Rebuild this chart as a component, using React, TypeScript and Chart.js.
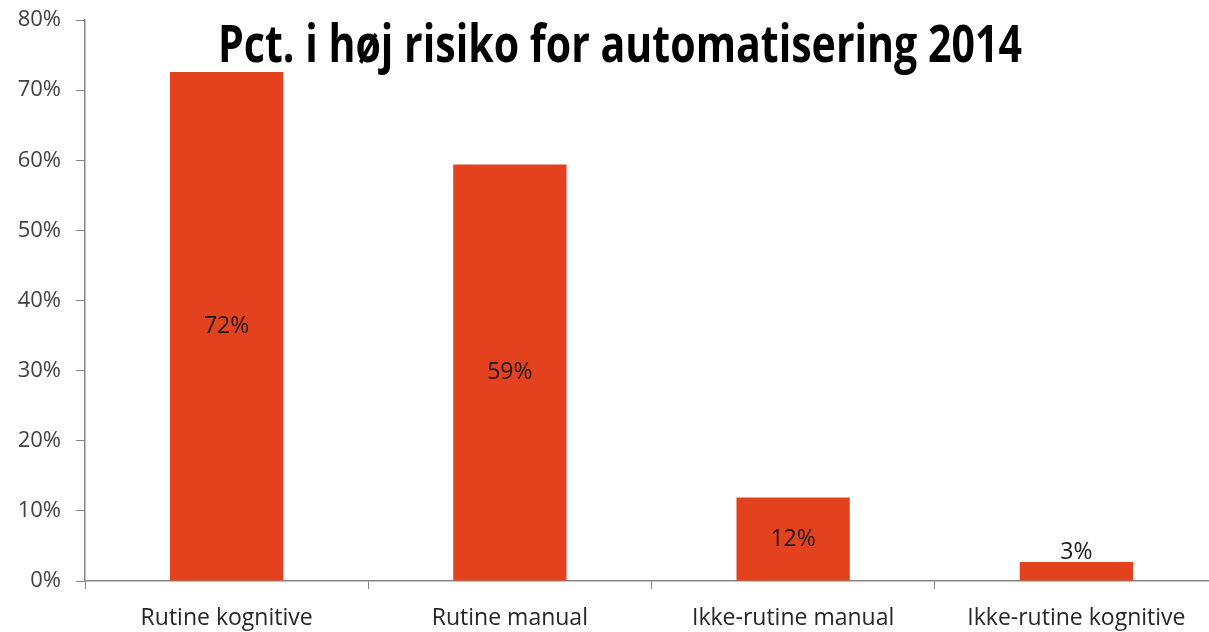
import React, { useEffect, useRef } from "react";
import { Chart, registerables } from "chart.js";

Chart.register(...registerables);

const categories = ["Rutine kognitive", "Rutine manual", "Ikke-rutine manual", "Ikke-rutine kognitive"];
const values = [72.6, 59.4, 11.9, 2.7];
const valueLabels = ["72%", "59%", "12%", "3%"];
const yTicks = [0, 10, 20, 30, 40, 50, 60, 70, 80];
const titleText = "Pct. i høj risiko for automatisering 2014";

const barColor = "#E4411F";
const axisColor = "#868686";

const labelPlugin = {
  id: "barLabels",
  afterDatasetsDraw(chart: any) {
    const ctx = chart.ctx;
    const meta = chart.getDatasetMeta(0);
    ctx.save();
    ctx.font = '23px "Open Sans", "Noto Sans", sans-serif';
    ctx.fillStyle = "#1a1a1a";
    ctx.textAlign = "center";
    ctx.textBaseline = "middle";
    meta.data.forEach((bar: any, i: number) => {
      const h = bar.base - bar.y;
      const y = h < 30 ? bar.y - 10 : (bar.y + bar.base) / 2;
      ctx.fillText(valueLabels[i], bar.x, y);
    });
    ctx.restore();
  },
};

const titlePlugin = {
  id: "insideTitle",
  afterDraw(chart: any) {
    const ctx = chart.ctx;
    ctx.save();
    ctx.font = 'bold 52px "Liberation Sans Narrow", "Open Sans", "Noto Sans", sans-serif';
    ctx.fillStyle = "#000000";
    ctx.textAlign = "center";
    ctx.textBaseline = "alphabetic";
    ctx.fillText(titleText, 620, 62, 804);
    ctx.restore();
  },
};

export default function App() {
  const ref = useRef<HTMLCanvasElement | null>(null);
  useEffect(() => {
    if (!ref.current) return;
    const chart = new Chart(ref.current, {
      type: "bar",
      data: {
        labels: categories,
        datasets: [
          {
            data: values,
            backgroundColor: barColor,
            borderWidth: 0,
            categoryPercentage: 1,
            barPercentage: 0.4,
          },
        ],
      },
      options: {
        responsive: false,
        animation: false,
        layout: { padding: { top: 20, right: 2, left: 0, bottom: 0 } },
        plugins: {
          legend: { display: false },
          title: { display: false },
          tooltip: { enabled: false },
        },
        scales: {
          x: {
            afterFit: (s: any) => {
              s.height = 51;
            },
            grid: {
              display: true,
              drawOnChartArea: false,
              drawTicks: true,
              tickLength: 8,
              color: axisColor,
              offset: true,
            },
            border: { display: true, color: axisColor, width: 1.5 },
            ticks: {
              color: "#262626",
              padding: 16,
              font: { family: '"Open Sans", "Noto Sans", sans-serif', size: 23 },
            },
          },
          y: {
            min: 0,
            max: 80,
            afterFit: (s: any) => {
              s.width = 85;
              s.paddingTop = 0;
              s.paddingBottom = 0;
            },
            afterBuildTicks: (s: any) => {
              s.ticks = yTicks.map((v) => ({ value: v }));
            },
            grid: {
              display: true,
              drawOnChartArea: false,
              drawTicks: true,
              tickLength: 9,
              color: axisColor,
            },
            border: { display: true, color: axisColor, width: 1.5 },
            ticks: {
              color: "#404040",
              padding: 15,
              callback: (v: any) => v + "%",
              font: { family: '"Open Sans", "Noto Sans", sans-serif', size: 22 },
            },
          },
        },
      },
      plugins: [labelPlugin, titlePlugin],
    });
    return () => chart.destroy();
  }, []);
  return (
    <div
      style={{
        position: "absolute",
        left: 0,
        top: 0,
        width: 1209,
        height: 632,
        overflow: "hidden",
        background: "#ffffff",
      }}
    >
      <canvas ref={ref} width={1220} height={632} style={{ display: "block" }} />
    </div>
  );
}
